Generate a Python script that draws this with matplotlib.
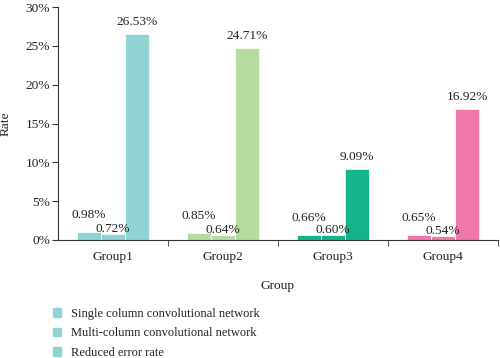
import matplotlib.pyplot as plt
from matplotlib.patches import Patch
import numpy as np

groups = ['Group1', 'Group2', 'Group3', 'Group4']
single_col = [0.98, 0.85, 0.66, 0.65]
multi_col = [0.72, 0.64, 0.60, 0.54]
reduced = [26.53, 24.71, 9.09, 16.92]
series_names = ['Single column convolutional network',
                'Multi-column convolutional network',
                'Reduced error rate']
group_colors = ['#8fd4d2', '#b5dba0', '#14b48b', '#f176aa']

plt.rcParams['font.family'] = ['Liberation Serif', 'DejaVu Serif']
plt.rcParams['font.size'] = 9.6
plt.rcParams['text.color'] = '#222222'
plt.rcParams['axes.labelcolor'] = '#222222'
plt.rcParams['xtick.color'] = '#222222'
plt.rcParams['ytick.color'] = '#222222'

fig = plt.figure(figsize=(5, 3.58), dpi=100)
ax = fig.add_axes([0.116, 0.330, 0.880, 0.650])

x = np.arange(len(groups))
w = 0.22
series = [single_col, multi_col, reduced]
label_off = [17, 5, 12]
for k, vals in enumerate(series):
    pos = x + (k - 1) * w
    ax.bar(pos, vals, w, color=group_colors, edgecolor='white', linewidth=0.5)
    for xi, v in zip(pos, vals):
        ax.annotate('%.2f%%' % v, (xi, v), textcoords='offset pixels',
                    xytext=(0, label_off[k]), ha='center', va='center')

ax.set_xlim(-0.5, 3.5)
ax.set_ylim(0, 30)
ax.set_yticks([0, 5, 10, 15, 20, 25, 30])
ax.set_yticklabels(['%d%%' % t for t in [0, 5, 10, 15, 20, 25, 30]])
ax.set_xticks(x)
ax.set_xticklabels(groups)
ax.set_xticks([0.5, 1.5, 2.5, 3.5], minor=True)
ax.tick_params(axis='x', which='major', length=0, pad=8)
ax.tick_params(axis='x', which='minor', length=4, direction='out', color='#333333')
ax.tick_params(axis='y', length=4, pad=1.5, color='#333333')
for s in ['top', 'right']:
    ax.spines[s].set_visible(False)
for s in ['left', 'bottom']:
    ax.spines[s].set_color('#333333')
    ax.spines[s].set_linewidth(0.8)

ax.set_ylabel('Rate')
ax.yaxis.set_label_coords(-0.105, 0.5)
ax.set_xlabel('Group', labelpad=12)

handles = [Patch(color=group_colors[0]) for _ in series_names]
fig.legend(handles, series_names, loc='upper left', bbox_to_anchor=(0.105, 0.14),
           frameon=False, handlelength=0.7, handleheight=0.7, handletextpad=0.8,
           labelspacing=0.6, borderpad=0, borderaxespad=0, fontsize=9)

fig.savefig('out.png', dpi=100)
